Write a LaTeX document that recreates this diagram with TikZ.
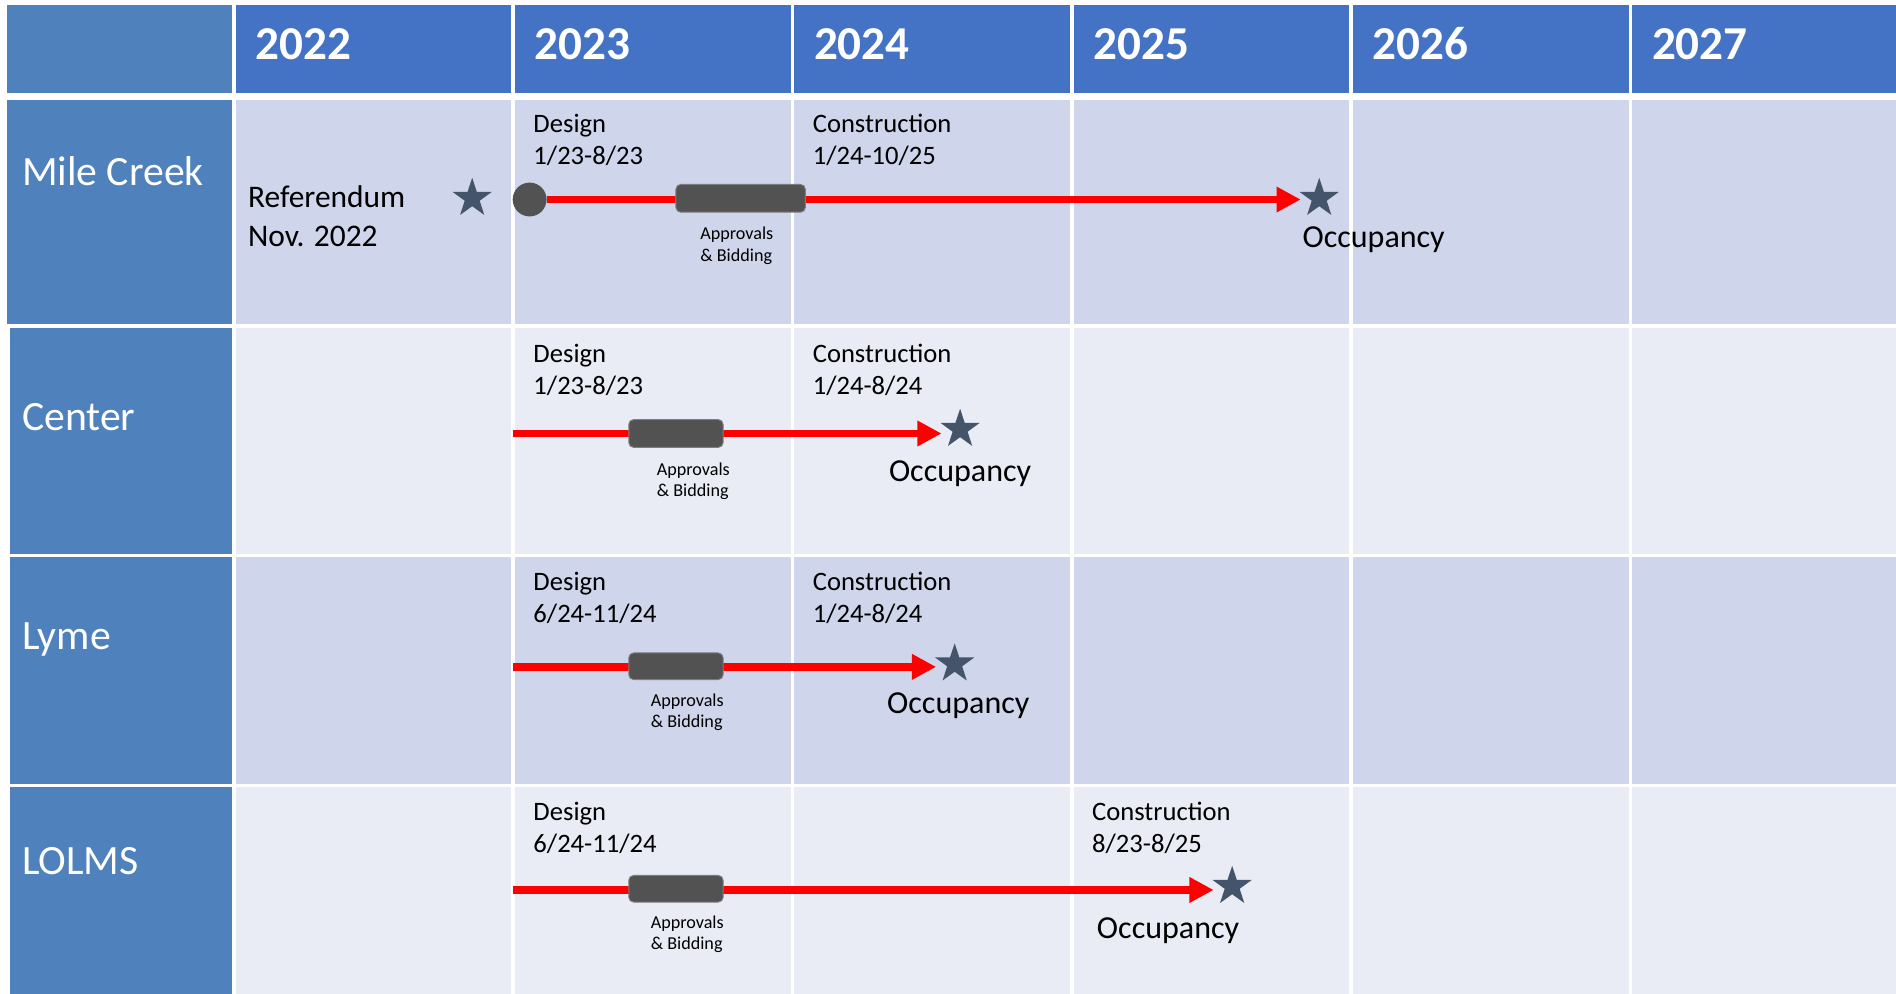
\documentclass[tikz,border=0pt]{standalone}
\usepackage{fontspec}
\setmainfont{Carlito}
\usetikzlibrary{shapes.geometric,arrows.meta}
\definecolor{headblue}{HTML}{4472C4}
\definecolor{sideblue}{HTML}{4F81BD}
\definecolor{rowdark}{HTML}{CFD5EA}
\definecolor{rowlight}{HTML}{E9EBF5}
\definecolor{starcol}{HTML}{44546A}
\definecolor{barcol}{HTML}{525252}

\begin{document}
\begin{tikzpicture}[x=1pt,y=-1pt,
		year/.style={anchor=base west,text=white,inner sep=0,font=\fontsize{39}{46}\selectfont\bfseries},
		school/.style={anchor=base west,text=white,inner sep=0,font=\fontsize{34.5}{40}\selectfont},
		phase/.style={anchor=base west,align=left,inner sep=0,font=\fontsize{22}{26.5}\selectfont},
		note/.style={anchor=base west,align=left,inner sep=0,font=\fontsize{15}{18}\selectfont},
		occ/.style={anchor=base west,inner sep=0,font=\fontsize{26.5}{32}\selectfont},
		milestone/.style={star,star points=5,star point ratio=2.6,fill=starcol,inner sep=0,minimum size=34pt},
		bar/.style={rounded corners=4pt,fill=barcol,draw=barcol!75!white,line width=0.8pt,inner sep=0,minimum height=23pt},
		timeline/.style={draw=red,line width=6pt,shorten >=6pt,-{Triangle[length=20pt,width=20pt]}}]
			\useasboundingbox (0,0) rectangle (1568,822);
			\fill[white] (0,0) rectangle (1568,822);
			
			\fill[sideblue] (6,4) rectangle (192,77);
			\fill[headblue] (195,4) rectangle (1568,77);
			\fill[sideblue] (6,83) rectangle (192,268);
			\fill[sideblue] (8,271) rectangle (192,458);
			\fill[sideblue] (8,461) rectangle (192,648);
			\fill[sideblue] (8,651) rectangle (192,822);
			\fill[rowdark] (195,83) rectangle (1568,268);
			\fill[rowlight] (195,271) rectangle (1568,458);
			\fill[rowdark] (195,461) rectangle (1568,648);
			\fill[rowlight] (195,651) rectangle (1568,822);
			\foreach \x in {424.5,655.5,886.5,1117.5,1348.5}
				\draw[white,line width=3pt] (\x,0) -- (\x,822);
			
			\node[year] (y22) at (211,49) {2022};
			\node[year] (y23) at (442,49) {2023};
			\node[year] (y24) at (673,49) {2024};
			\node[year] (y25) at (904,49) {2025};
			\node[year] (y26) at (1135,49) {2026};
			\node[year] (y27) at (1366,49) {2027};
			
			\node[school] (mc) at (18,153) {Mile Creek};
			\node[school] (ce) at (18,356) {Center};
			\node[school] (ly) at (18,537) {Lyme};
			\node[school] (lo) at (18,723) {LOLMS};
			
			\node[phase,font=\fontsize{26}{31.5}\selectfont] (mcref) at (205,203.5) {Referendum\\Nov. 2022};
			\node[milestone] (mcrefstar) at (390.5,164) {};
			\node[phase] (mcdes) at (441,136) {Design\\1/23-8/23};
			\node[phase] (mccon) at (672,136) {Construction\\1/24-10/25};
			\node[circle,fill=barcol,inner sep=0,minimum size=28pt] (mcdot) at (438,165) {};
			\node[milestone] (mcstar) at (1091,164) {};
			\draw[timeline] (mcdot) -- (mcstar.west |- mcdot);
			\node[bar,minimum width=107pt] (mcbar) at (612.5,164) {};
			\node[note] (mcappr) at (579,216) {Approvals\\\& Bidding};
			\node[occ] (mcocc) at (1077,205) {Occupancy};
			
			\node[phase] (cedes) at (441,326) {Design\\1/23-8/23};
			\node[phase] (cecon) at (672,326) {Construction\\1/24-8/24};
			\coordinate (cestart) at (424,358.5);
			\node[milestone] (cestar) at (794,355) {};
			\draw[timeline] (cestart) -- (cestar.west |- cestart);
			\node[bar,minimum width=78pt] (cebar) at (559,358.5) {};
			\node[note] (ceappr) at (543,411) {Approvals\\\& Bidding};
			\node[occ] (ceocc) at (735,398) {Occupancy};
			
			\node[phase] (lydes) at (441,515) {Design\\6/24-11/24};
			\node[phase] (lycon) at (672,515) {Construction\\1/24-8/24};
			\coordinate (lystart) at (424,551.5);
			\node[milestone] (lystar) at (789.5,549) {};
			\draw[timeline] (lystart) -- (lystar.west |- lystart);
			\node[bar,minimum width=78pt,minimum height=22pt] (lybar) at (559,551) {};
			\node[note] (lyappr) at (538,602) {Approvals\\\& Bidding};
			\node[occ] (lyocc) at (733.5,590) {Occupancy};
			
			\node[phase] (lodes) at (441,705) {Design\\6/24-11/24};
			\node[phase] (locon) at (903,705) {Construction\\8/23-8/25};
			\coordinate (lostart) at (424,736);
			\node[milestone] (lostar) at (1019,733) {};
			\draw[timeline] (lostart) -- (lostar.west |- lostart);
			\node[bar,minimum width=78pt,minimum height=22pt] (lobar) at (559,735) {};
			\node[note] (loappr) at (538,785.5) {Approvals\\\& Bidding};
			\node[occ] (loocc) at (907,776) {Occupancy};
		\end{tikzpicture}
\end{document}
